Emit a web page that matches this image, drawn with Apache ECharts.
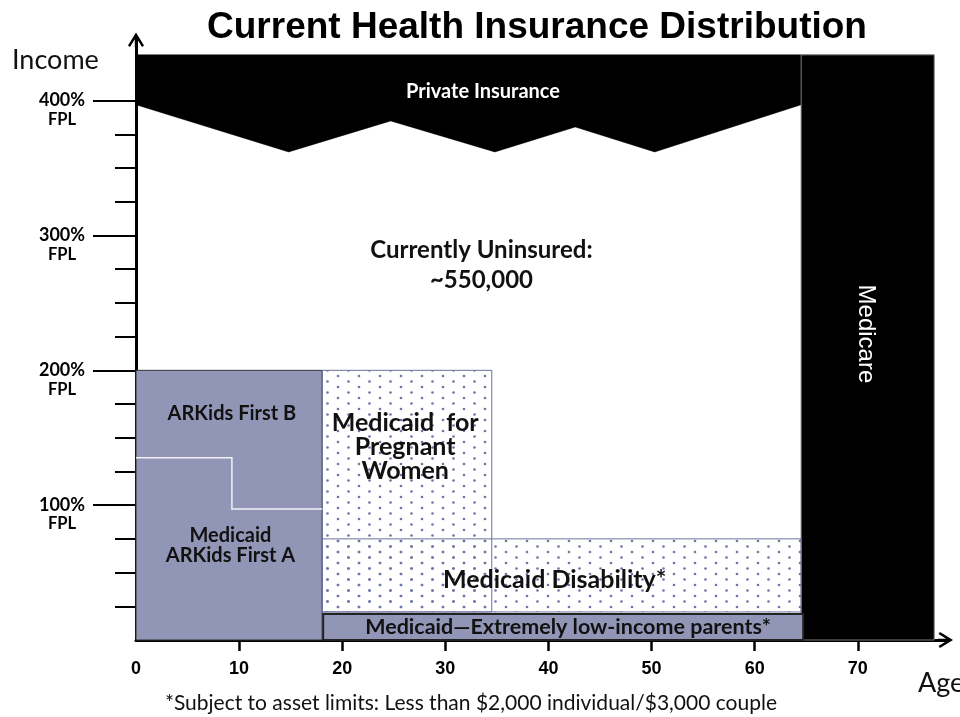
<!DOCTYPE html>
<html>
<head>
<meta charset="utf-8">
<script src="https://cdn.jsdelivr.net/npm/echarts@6/dist/echarts.min.js"></script>
<style>
  html, body { margin: 0; background: #fff; }
  #main { width: 960px; height: 717px; }
</style>
</head>
<body>
<div id="main"></div>
<script>
// axis ticks
const ageTicks = [0, 10, 20, 30, 40, 50, 60, 70];
const fplMajor = [100, 200, 300, 400];
const fplMinor = [25, 50, 75, 125, 150, 175, 225, 250, 275, 325, 350, 375];

// coverage regions, outline points as [age, %FPL]
const privateInsurance = [[0, 434], [64.5, 434], [64.5, 397], [50.3, 362], [42.6, 380.5], [34.8, 362], [24.7, 385], [14.8, 362], [0, 397]];
const medicare = [[64.5, 434], [77.4, 434], [77.4, 0], [64.5, 0]];
const arkids = [[0, 0], [18.05, 0], [18.05, 200], [0, 200]];
const arkidsSplit = [[0, 135.2], [9.3, 135.2], [9.3, 97.2], [18.05, 97.2]];
const pregnantWomen = [[18.05, 20.8], [34.5, 20.8], [34.5, 200], [18.05, 200]];
const disability = [[18.05, 20.8], [64.5, 20.8], [64.5, 75], [18.05, 75]];
const lowIncomeParents = [[18.15, 0], [64.7, 0], [64.7, 19.3], [18.15, 19.3]];

const regionNames = ['private', 'medicare', 'arkids', 'pregnant', 'disability', 'parents', 'split'];
const regionPoints = [privateInsurance, medicare, arkids, pregnantWomen, disability, lowIncomeParents, arkidsSplit];

// region labels
const labelTexts = [
  'Private Insurance',
  'Currently Uninsured:\n~550,000',
  'Medicare',
  'ARKids First B',
  'Medicaid\nARKids First A',
  'Medicaid  for\nPregnant\nWomen',
  'Medicaid Disability*',
  'Medicaid\u2014Extremely low-income parents*'
];
const labelAnchors = [[33.65, 406.4], [33.5, 278], [70.8, 227], [9.3, 167.6], [9.16, 70.1], [26.1, 143], [40.6, 44.5], [41.9, 9.3]];

const CAL = 'Lato, "Open Sans", sans-serif';
const ARIAL = '"Liberation Sans", Arial, sans-serif';

function dots() {
  const c = document.createElement('canvas');
  c.width = 21; c.height = 11;
  const ctx = c.getContext('2d');
  ctx.fillStyle = '#6f77a6';
  ctx.beginPath(); ctx.arc(2, 2, 1.35, 0, Math.PI * 2); ctx.fill();
  ctx.beginPath(); ctx.arc(12.5, 7.5, 1.35, 0, Math.PI * 2); ctx.fill();
  return c;
}
const dotFill = { image: dots(), repeat: 'repeat' };

const regionStyle = {
  private: { fill: '#000', stroke: '#000', lineWidth: 0.5 },
  medicare: { fill: '#000', stroke: '#777', lineWidth: 1 },
  arkids: { fill: '#9296b6', stroke: '#333', lineWidth: 1 },
  pregnant: { fill: dotFill, stroke: '#6c729c', lineWidth: 1 },
  disability: { fill: dotFill, stroke: '#6c729c', lineWidth: 1 },
  parents: { fill: '#9296b6', stroke: '#222', lineWidth: 2 },
  split: { fill: null, stroke: '#f2f2f6', lineWidth: 1.5 }
};

const labelStyle = [
  { font: 'bold 20px ' + CAL, fill: '#fff' },
  { font: 'bold 24px ' + CAL, fill: '#111', lineHeight: 30 },
  { font: '24px ' + ARIAL, fill: '#fff', rotate: -Math.PI / 2 },
  { font: 'bold 20px ' + CAL, fill: '#111' },
  { font: 'bold 20px ' + CAL, fill: '#111', lineHeight: 20 },
  { font: 'bold 25px ' + CAL, fill: '#111', lineHeight: 24 },
  { font: 'bold 25px ' + CAL, fill: '#111' },
  { font: 'bold 21.5px ' + CAL, fill: '#111' }
];

const chart = echarts.init(document.getElementById('main'), null, { renderer: 'canvas' });

const arrow = 'path://M8,0 L16,13 L14,14.5 L9.2,6.8 L9.2,15 L6.8,15 L6.8,6.8 L2,14.5 L0,13 Z';

chart.setOption({
  animation: false,
  backgroundColor: '#fff',
  title: [
    {
      text: 'Current Health Insurance Distribution',
      left: 532, top: 4, textAlign: 'center',
      textStyle: { fontFamily: '"Liberation Sans Narrow", "Liberation Sans", Arial', fontWeight: 'bold', fontSize: 37, color: '#000' }
    },
    {
      text: '*Subject to asset limits: Less than $2,000 individual/$3,000 couple',
      left: 466, top: 688, textAlign: 'center',
      textStyle: { fontFamily: CAL, fontWeight: 'normal', fontSize: 21, color: '#111' }
    },
    {
      text: 'Income', left: 7, top: 42,
      textStyle: { fontFamily: CAL, fontWeight: 'normal', fontSize: 27, color: '#111' }
    },
    {
      text: 'Age', left: 913, top: 665,
      textStyle: { fontFamily: CAL, fontWeight: 'normal', fontSize: 27, color: '#111' }
    }
  ],
  grid: { left: 136, right: 14.5, top: 40, bottom: 77, containLabel: false },
  xAxis: {
    type: 'value', min: 0, max: 78.5,
    splitLine: { show: false },
    axisLine: { show: true, onZero: false, symbol: ['none', arrow], symbolSize: [16, 15], lineStyle: { color: '#000', width: 3 } },
    axisTick: { show: true, customValues: ageTicks.slice(1), length: 11, lineStyle: { color: '#000', width: 2.5 } },
    axisLabel: { customValues: ageTicks, margin: 20, fontFamily: ARIAL, fontWeight: 'bold', fontSize: 18, color: '#000' }
  },
  yAxis: [
    {
      type: 'value', min: 0, max: 445,
      splitLine: { show: false },
      axisLine: { show: true, onZero: false, symbol: ['none', arrow], symbolSize: [16, 15], lineStyle: { color: '#000', width: 3 } },
      axisTick: { show: true, customValues: fplMajor, length: 43, lineStyle: { color: '#000', width: 2 } },
      axisLabel: {
        customValues: fplMajor, margin: 74, align: 'center',
        formatter: v => '{e| }\n{a|' + v + '%}\n{b|FPL}',
        rich: {
          e: { lineHeight: 20, fontSize: 10 },
          a: { fontFamily: CAL, fontWeight: 'bold', fontSize: 18, lineHeight: 18, color: '#000' },
          b: { fontFamily: CAL, fontWeight: 'bold', fontSize: 16.5, lineHeight: 20, color: '#000' }
        }
      }
    },
    {
      type: 'value', min: 0, max: 445, position: 'left', offset: 0,
      splitLine: { show: false },
      axisLine: { show: false },
      axisTick: { show: true, customValues: fplMinor, length: 21, lineStyle: { color: '#000', width: 2 } },
      axisLabel: { show: false }
    }
  ],
  series: [
    {
      type: 'custom',
      coordinateSystem: 'cartesian2d',
      clip: false,
      silent: true,
      data: regionPoints.map(p => p[0]),
      renderItem: function (params, api) {
        const name = regionNames[params.dataIndex];
        const st = regionStyle[name];
        const pts = regionPoints[params.dataIndex].map(p => api.coord(p));
        return {
          type: st.fill ? 'polygon' : 'polyline',
          shape: { points: pts },
          style: { fill: st.fill || null, stroke: st.stroke, lineWidth: st.lineWidth }
        };
      },
      z: 1
    },
    {
      type: 'custom',
      coordinateSystem: 'cartesian2d',
      clip: false,
      silent: true,
      data: labelAnchors,
      renderItem: function (params, api) {
        const i = params.dataIndex;
        const st = labelStyle[i];
        const p = api.coord([api.value(0), api.value(1)]);
        return {
          type: 'text',
          x: p[0], y: p[1],
          rotation: st.rotate || 0,
          style: {
            text: labelTexts[i], font: st.font, fill: st.fill,
            align: 'center', verticalAlign: 'middle', lineHeight: st.lineHeight
          }
        };
      },
      z: 3
    }
  ]
});
</script>
</body>
</html>
